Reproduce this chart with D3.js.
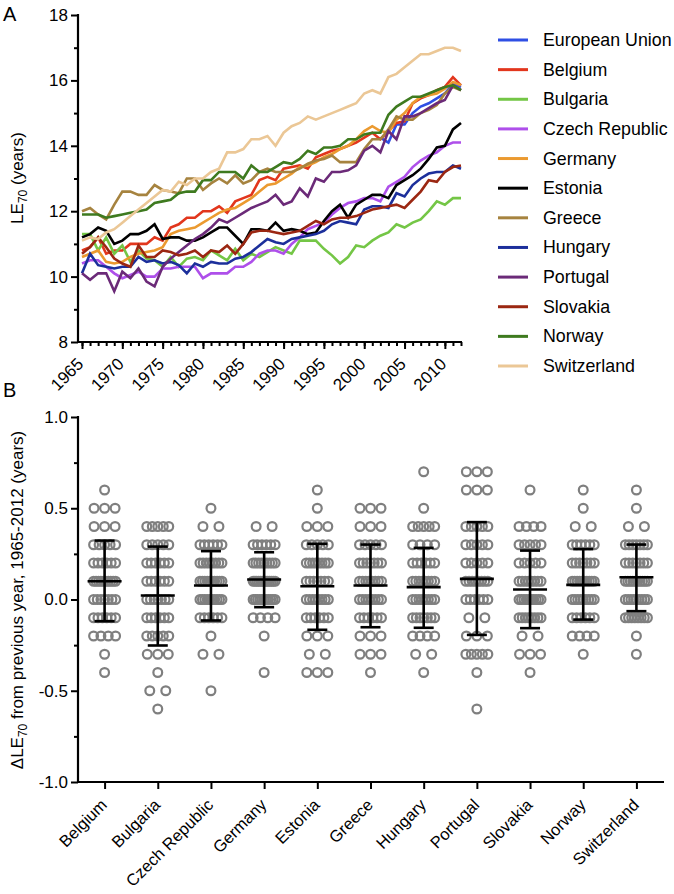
<!DOCTYPE html>
<html><head><meta charset="utf-8">
<script src="https://cdn.jsdelivr.net/npm/d3@7"></script>
<style>
body{margin:0;background:#fff}
svg{display:block}
text{font-family:"Liberation Sans",Arial,Helvetica,sans-serif;fill:#000}
</style>
</head><body>
<svg id="chart" width="674" height="894"></svg>
<script>
// ---------- Panel A data ----------
const years = d3.range(1965, 2013);
const seriesNames = ["European Union","Belgium","Bulgaria","Czech Republic","Germany","Estonia","Greece","Hungary","Portugal","Slovakia","Norway","Switzerland"];
const seriesColors = ["#2f4fe4","#e2361d","#74c646","#ae4fea","#eb9a30","#000000","#a6833f","#1c2f9b","#6b2a78","#9b2712","#3e7a1f","#ebc796"];

const euValues = [null,null,null,null,null,null,null,null,null,null,null,null,null,null,null,null,null,null,null,null,null,null,null,null,null,null,null,null,null,null,null,null,null,null,null,null,null,
  14.25,14.1,14.65,14.65,15.0,15.2,15.3,15.45,15.6,15.9,15.8];
const belgiumValues = [10.8,10.9,11.2,10.7,10.8,10.8,11.0,11.0,11.0,11.2, 11.1,11.5,11.6,11.8,11.8,12.0,12.0,12.15,11.95,12.3, 12.4,12.5,12.95,13.05,12.95,13.3,13.35,13.4,13.3,13.65, 13.75,13.85,13.9,14.0,14.1,14.25,14.4,14.2,14.45,14.7, 14.75,15.3,15.45,15.55,15.7,15.8,16.1,15.85];
const bulgariaValues = [11.3,11.3,10.8,11.2,10.7,10.95,10.45,10.8,10.55,10.5, 10.3,10.6,10.3,10.55,10.6,10.5,10.8,10.65,10.5,10.85, 10.5,10.7,10.6,10.75,10.9,10.8,10.7,11.1,11.1,11.1, 10.85,10.65,10.4,10.6,10.95,10.9,11.1,11.25,11.35,11.6, 11.5,11.65,11.75,12.0,12.3,12.2,12.4,12.4];
const czechValues = [10.4,10.5,10.5,10.3,10.1,9.95,10.05,10.15,10.0,10.0, 10.25,10.25,10.3,10.3,10.3,9.95,10.1,10.1,10.1,10.3, 10.3,10.45,10.7,10.8,10.8,10.7,11.0,11.2,11.45,11.55, 11.65,11.9,12.1,12.25,12.3,12.4,12.4,12.3,12.75,12.9, 13.05,13.35,13.55,13.7,13.8,14.0,14.1,14.1];
const germanyValues = [10.6,10.7,10.8,10.45,10.4,10.45,10.6,10.7,10.75,10.8, 10.9,11.3,11.4,11.45,11.5,11.65,11.8,11.95,12.05,12.1, 12.25,12.4,12.6,12.8,12.85,13.0,13.15,13.35,13.4,13.5, 13.65,13.75,13.9,14.0,14.2,14.45,14.6,14.45,14.4,14.8, 15.0,15.3,15.5,15.55,15.6,15.75,15.95,15.85];
const estoniaValues = [11.2,11.3,11.5,11.4,11.0,11.1,11.3,11.3,11.4,11.6, 11.15,11.2,11.2,11.1,11.1,11.2,11.35,11.5,11.5,11.25, 11.0,11.45,11.45,11.4,11.65,11.4,11.45,11.4,11.3,11.35, 11.7,12.0,12.2,11.8,12.2,12.35,12.5,12.5,12.4,12.8, 12.95,13.1,13.3,13.6,13.95,14.0,14.5,14.7];
const greeceValues = [12.0,12.1,11.9,11.75,12.2,12.6,12.6,12.5,12.5,12.8, 12.65,12.6,12.55,13.0,13.0,12.65,12.85,13.0,12.85,13.1, 12.85,12.95,13.2,13.3,13.2,13.2,13.2,13.3,13.45,13.55, 13.6,13.7,13.5,13.5,13.5,13.9,14.2,14.2,14.5,14.9, 14.8,14.8,15.0,15.1,15.25,15.6,15.8,15.7];
const hungaryValues = [10.1,10.7,10.35,10.3,10.25,10.3,10.3,10.6,10.45,10.5, 10.4,10.45,10.35,10.1,10.4,10.3,10.45,10.4,10.4,10.55, 10.6,10.75,10.95,11.15,11.05,11.0,11.15,11.2,11.25,11.3, 11.4,11.6,11.7,11.65,11.6,12.05,12.15,12.15,12.1,12.55, 12.45,12.8,13.0,13.15,13.2,13.2,13.4,13.3];
const portugalValues = [10.1,9.9,10.1,10.1,9.55,10.15,9.95,10.25,9.85,9.7, 10.3,10.55,10.75,10.95,11.15,11.3,11.5,11.75,11.65,11.8, 11.95,12.1,12.2,12.3,12.5,12.2,12.3,12.7,12.45,13.0, 12.9,13.2,13.2,13.25,13.4,13.85,14.0,13.8,14.45,14.2, 14.9,14.9,15.0,15.15,15.3,15.4,15.85,15.7];
const slovakiaValues = [10.7,10.9,11.2,10.9,10.55,10.4,10.3,10.95,10.6,10.6, 10.8,10.75,10.65,10.7,10.8,10.6,10.8,10.75,10.95,10.7, 11.0,11.35,11.4,11.4,11.35,11.3,11.35,11.4,11.55,11.7, 11.6,11.75,11.8,11.8,11.85,11.95,12.05,12.1,12.15,12.2, 12.1,12.35,12.6,12.95,12.9,13.2,13.35,13.4];
const norwayValues = [11.9,11.9,11.9,11.8,11.85,11.9,11.95,12.0,12.05,12.25, 12.3,12.35,12.55,12.6,12.6,12.95,12.95,13.2,13.2,13.2, 13.0,13.4,13.2,13.2,13.35,13.5,13.45,13.6,13.85,13.75, 13.95,13.95,14.0,14.2,14.2,14.35,14.4,14.4,14.95,15.2, 15.35,15.5,15.5,15.6,15.7,15.8,15.85,15.7];
const switzerlandValues = [11.1,11.2,11.15,11.35,11.45,11.65,11.85,12.05,12.25,12.45, 12.65,12.6,12.9,12.8,13.0,13.0,13.2,13.3,13.8,13.8, 13.9,14.2,14.2,14.3,14.0,14.4,14.6,14.7,14.9,14.8, 14.9,15.0,15.1,15.2,15.3,15.6,15.7,15.6,16.1,16.2, 16.4,16.6,16.8,16.8,16.9,17.0,17.0,16.9];
const seriesValues = [euValues,belgiumValues,bulgariaValues,czechValues,germanyValues,estoniaValues,greeceValues,hungaryValues,portugalValues,slovakiaValues,norwayValues,switzerlandValues];

const yTicksA = [8,10,12,14,16,18];
const yMinorA = [9,11,13,15,17];
const xTicksA = [1965,1970,1975,1980,1985,1990,1995,2000,2005,2010];

// ---------- Panel B data ----------
const countriesB = ["Belgium","Bulgaria","Czech Republic","Germany","Estonia","Greece","Hungary","Portugal","Slovakia","Norway","Switzerland"];
const deltaLevels = [0.7,0.6,0.5,0.4,0.3,0.2,0.1,0.0,-0.1,-0.2,-0.3,-0.4,-0.5,-0.6];
const belgiumCounts     = [0,1,3,3,5,6,10,7,6,4,1,1,0,0];
const bulgariaCounts    = [0,0,0,5,5,6,6,7,6,5,3,1,2,1];
const czechCounts       = [0,0,1,2,6,8,10,10,6,1,2,0,1,0];
const germanyCounts     = [0,0,0,2,6,9,13,11,4,1,0,1,0,0];
const estoniaCounts     = [0,1,1,3,5,8,7,8,6,3,2,3,0,0];
const greeceCounts      = [0,0,3,3,5,7,8,8,6,3,3,1,0,0];
const hungaryCounts     = [1,0,1,5,4,6,8,8,7,4,2,1,0,0];
const portugalCounts    = [3,3,0,5,5,5,8,6,2,3,5,1,0,1];
const slovakiaCounts    = [0,1,0,4,5,5,8,10,8,2,3,1,0,0];
const norwayCounts      = [0,1,1,2,6,7,10,9,6,4,1,0,0,0];
const switzerlandCounts = [0,1,1,2,7,7,10,9,8,1,1,0,0,0];
const deltaCounts = [belgiumCounts,bulgariaCounts,czechCounts,germanyCounts,estoniaCounts,greeceCounts,hungaryCounts,portugalCounts,slovakiaCounts,norwayCounts,switzerlandCounts];
const meanValues  = [0.10,0.022,0.077,0.11,0.073,0.077,0.068,0.113,0.055,0.08,0.122];
const sdUpper     = [0.323,0.29,0.265,0.259,0.305,0.301,0.283,0.424,0.268,0.276,0.301];
const sdLower     = [-0.119,-0.252,-0.115,-0.042,-0.166,-0.152,-0.155,-0.194,-0.157,-0.11,-0.064];
const yTicksB = [-1.0,-0.5,0.0,0.5,1.0];
const yMinorB = [-0.75,-0.25,0.25,0.75];

// ---------- Drawing ----------
const svg = d3.select("#chart");
const FS = 17;

function styleAxis(g){
  g.selectAll("path.domain").remove();
  g.selectAll(".tick line").attr("stroke","#000").attr("stroke-width",2);
  g.selectAll("text").style("font-size",FS+"px").style("font-family",'"Liberation Sans",Arial,sans-serif');
}

// Panel A
const xA = d3.scaleLinear().domain([1965,2012]).range([82,461]);
const yA = d3.scaleLinear().domain([8,18]).range([342,15]);
const axisXA = 78, axisYA = 342;

const gA = svg.append("g");
gA.append("g").attr("transform",`translate(0,${axisYA})`)
  .call(d3.axisBottom(xA).tickValues(years).tickSize(4).tickFormat(""))
  .call(styleAxis);
const gxA = gA.append("g").attr("transform",`translate(0,${axisYA})`)
  .call(d3.axisBottom(xA).tickValues(xTicksA).tickSize(7).tickFormat(d3.format("d")))
  .call(styleAxis);
gxA.selectAll("text").attr("x",null).attr("y",null).attr("dy",null)
  .attr("transform","translate(2,23) rotate(-45)").style("text-anchor","end");
gA.append("line").attr("x1",axisXA-1).attr("x2",462).attr("y1",axisYA).attr("y2",axisYA).attr("stroke","#000").attr("stroke-width",2.2);

gA.append("g").attr("transform",`translate(${axisXA},0)`)
  .call(d3.axisLeft(yA).tickValues(yMinorA).tickSize(4).tickFormat(""))
  .call(styleAxis);
gA.append("g").attr("transform",`translate(${axisXA},0)`)
  .call(d3.axisLeft(yA).tickValues(yTicksA).tickSize(7).tickPadding(3).tickFormat(d3.format("d")))
  .call(styleAxis);
gA.append("line").attr("x1",axisXA).attr("x2",axisXA).attr("y1",yA(18)-1).attr("y2",axisYA+1).attr("stroke","#000").attr("stroke-width",2.2);

const ylA = gA.append("text").attr("transform","translate(23,178) rotate(-90)").style("text-anchor","middle").style("font-size",FS+"px");
ylA.append("tspan").text("LE");
ylA.append("tspan").text("70").attr("dy",4).style("font-size","12px");
ylA.append("tspan").text(" (years)").attr("dy",-4);

const line = d3.line().defined(d => d.v != null).x(d => xA(d.year)).y(d => yA(d.v));
seriesNames.forEach((name,i) => {
  const data = years.map((yr,j) => ({year:yr, v:seriesValues[i][j]}));
  gA.append("path").datum(data).attr("d",line).attr("fill","none")
    .attr("stroke",seriesColors[i]).attr("stroke-width",2.6).attr("stroke-linejoin","miter");
});

// Legend
const legY = d3.scaleLinear().domain([0,11]).range([40,366]);
const leg = svg.append("g");
seriesNames.forEach((name,i) => {
  leg.append("line").attr("x1",498).attr("x2",528).attr("y1",legY(i)).attr("y2",legY(i))
    .attr("stroke",seriesColors[i]).attr("stroke-width",3);
  leg.append("text").attr("x",543).attr("y",legY(i)+6).text(name).style("font-size","17.8px");
});

svg.append("text").attr("x",3).attr("y",21).text("A").style("font-size","20px");
svg.append("text").attr("x",3).attr("y",397).text("B").style("font-size","20px");

// Panel B
const xB = d3.scalePoint().domain(countriesB).range([78,663]).padding(0.5);
const yB = d3.scaleLinear().domain([-1,1]).range([782,417]);
const axisXB = 78, axisYB = 782;
const gB = svg.append("g");

const gxB = gB.append("g").attr("transform",`translate(0,${axisYB})`)
  .call(d3.axisBottom(xB).tickSize(7))
  .call(styleAxis);
gxB.selectAll("text").attr("x",null).attr("y",null).attr("dy",null)
  .attr("transform","translate(3,24) rotate(-45)").style("text-anchor","end").style("font-size","16.5px");
gB.append("line").attr("x1",axisXB-1).attr("x2",664).attr("y1",axisYB).attr("y2",axisYB).attr("stroke","#000").attr("stroke-width",2.2);

gB.append("g").attr("transform",`translate(${axisXB},0)`)
  .call(d3.axisLeft(yB).tickValues(yMinorB).tickSize(4).tickFormat(""))
  .call(styleAxis);
const fmtB = d3.format(".1f");
gB.append("g").attr("transform",`translate(${axisXB},0)`)
  .call(d3.axisLeft(yB).tickValues(yTicksB).tickSize(7).tickPadding(3).tickFormat(d => fmtB(d).replace("\u2212","-")))
  .call(styleAxis);
gB.append("line").attr("x1",axisXB).attr("x2",axisXB).attr("y1",yB(1)-1).attr("y2",axisYB+1).attr("stroke","#000").attr("stroke-width",2.2);

const ylB = gB.append("text").attr("transform","translate(23,600) rotate(-90)").style("text-anchor","middle").style("font-size",FS+"px");
ylB.append("tspan").text("ΔLE");
ylB.append("tspan").text("70").attr("dy",4).style("font-size","12px");
ylB.append("tspan").text(" from previous year, 1965-2012 (years)").attr("dy",-4);

const pts = [];
countriesB.forEach((c,i) => {
  deltaLevels.forEach((lv,k) => {
    const n = deltaCounts[i][k];
    if (!n) return;
    const s = n === 1 ? 0 : (n === 2 ? 16 : Math.min(10.5, 22/(n-1)));
    for (let j = 0; j < n; j++) pts.push({c, v: lv, off: (j - (n-1)/2) * s});
  });
});
gB.append("g").selectAll("circle").data(pts).join("circle")
  .attr("cx", d => xB(d.c) + d.off).attr("cy", d => yB(d.v)).attr("r",4.4)
  .attr("fill","none").attr("stroke","#7f7f7f").attr("stroke-width",2.2);

const eb = gB.append("g").attr("stroke","#000").attr("stroke-width",2.6);
countriesB.forEach((c,i) => {
  const cx = xB(c);
  eb.append("line").attr("x1",cx).attr("x2",cx).attr("y1",yB(sdUpper[i])).attr("y2",yB(sdLower[i]));
  eb.append("line").attr("x1",cx-10).attr("x2",cx+10).attr("y1",yB(sdUpper[i])).attr("y2",yB(sdUpper[i]));
  eb.append("line").attr("x1",cx-10).attr("x2",cx+10).attr("y1",yB(sdLower[i])).attr("y2",yB(sdLower[i]));
  eb.append("line").attr("x1",cx-17).attr("x2",cx+17).attr("y1",yB(meanValues[i])).attr("y2",yB(meanValues[i]));
});
</script>
</body></html>
